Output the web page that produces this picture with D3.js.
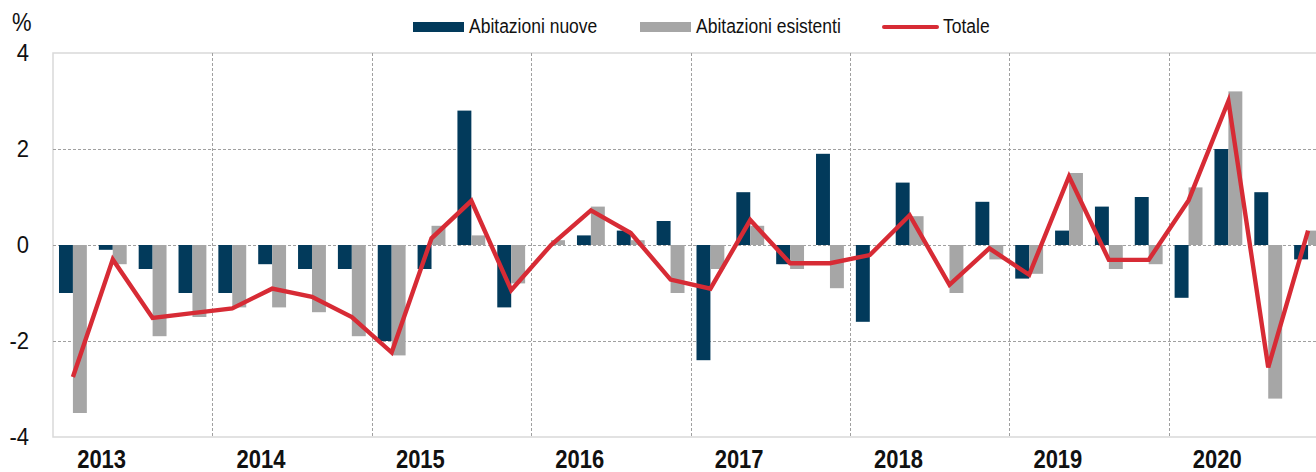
<!DOCTYPE html>
<html>
<head>
<meta charset="utf-8">
<script src="https://cdn.jsdelivr.net/npm/d3@7"></script>
<style>
  html, body { margin: 0; padding: 0; background: #fff; overflow: hidden; }
  svg { display: block; font-family: "Liberation Sans", Arial, sans-serif; }
</style>
</head>
<body>
<div id="chart"></div>
<script>
// quarterly data, 2013 Q1 - 2020 Q4 (% change)
const years = ["2013", "2014", "2015", "2016", "2017", "2018", "2019", "2020"];
const quarters = years.flatMap(y => ["Q1", "Q2", "Q3", "Q4"].map(q => y + q));

const nuove = [
    -1.0, -0.1, -0.5, -1.0,
    -1.0, -0.4, -0.5, -0.5,
    -2.0, -0.5, 2.8, -1.3,
    0.0, 0.2, 0.3, 0.5,
    -2.4, 1.1, -0.4, 1.9,
    -1.6, 1.3, 0.0, 0.9,
    -0.7, 0.3, 0.8, 1.0,
    -1.1, 2.0, 1.1, -0.3
];
const esistenti = [
    -3.5, -0.4, -1.9, -1.5,
    -1.3, -1.3, -1.4, -1.9,
    -2.3, 0.4, 0.2, -0.8,
    0.1, 0.8, 0.1, -1.0,
    -0.5, 0.4, -0.5, -0.9,
    0.0, 0.6, -1.0, -0.3,
    -0.6, 1.5, -0.5, -0.4,
    1.2, 3.2, -3.2, 0.3
];
const totale = [
    -2.75, -0.3, -1.52, -1.42,
    -1.32, -0.91, -1.08, -1.5,
    -2.24, 0.14, 0.92, -0.94,
    0.0, 0.72, 0.25, -0.72,
    -0.91, 0.52, -0.38, -0.38,
    -0.21, 0.62, -0.83, -0.07,
    -0.62, 1.43, -0.31, -0.31,
    0.93, 3.0, -2.55, 0.3
];
const yTicks = [-4, -2, 0, 2, 4];

const series = ["Abitazioni nuove", "Abitazioni esistenti"];
const colors = { "Abitazioni nuove": "#023a5b", "Abitazioni esistenti": "#a6a6a6", "Totale": "#d72b35" };

const width = 1316, height = 472;
const margin = { top: 53, right: -12, bottom: 35, left: 53 };

const svg = d3.select("#chart").append("svg")
    .attr("width", width)
    .attr("height", height);

let x = d3.scaleBand()
    .domain(quarters)
    .range([margin.left, width - margin.right])
    .padding(0);

let xSub = d3.scaleBand()
    .domain(series)
    .range([0, x.bandwidth()])
    .paddingInner(0)
    .paddingOuter(0.43);

let y = d3.scaleLinear()
    .domain([-4, 4])
    .range([height - margin.bottom, margin.top]);

let plotRight = width - margin.right;

// plot frame (light grey)
svg.append("path")
    .attr("fill", "none")
    .attr("stroke", "#d9d9d9")
    .attr("stroke-width", 1.5)
    .attr("d", `M${plotRight},${y(4)}H${margin.left}V${y(-4)}H${plotRight}`);

// horizontal dashed grid
svg.append("g")
    .selectAll("line")
    .data(yTicks.filter(d => d > -4 && d < 4))
    .join("line")
    .attr("x1", margin.left)
    .attr("x2", plotRight)
    .attr("y1", d => Math.round(y(d)) + 0.5)
    .attr("y2", d => Math.round(y(d)) + 0.5)
    .attr("stroke", "#a0a0a0")
    .attr("stroke-width", 1)
    .attr("stroke-dasharray", "3,2");

// vertical dashed lines at year boundaries
svg.append("g")
    .selectAll("line")
    .data(years.slice(1))
    .join("line")
    .attr("x1", d => Math.round(x(d + "Q1")) + 0.5)
    .attr("x2", d => Math.round(x(d + "Q1")) + 0.5)
    .attr("y1", y(4))
    .attr("y2", y(-4))
    .attr("stroke", "#a0a0a0")
    .attr("stroke-width", 1)
    .attr("stroke-dasharray", "3,2");

// bars
const barData = quarters.flatMap((q, i) => [
    { q: q, s: series[0], v: nuove[i] },
    { q: q, s: series[1], v: esistenti[i] }
]);

svg.append("g")
    .selectAll("rect")
    .data(barData)
    .join("rect")
    .attr("x", d => x(d.q) + xSub(d.s))
    .attr("width", xSub.bandwidth())
    .attr("y", d => y(Math.max(0, d.v)))
    .attr("height", d => Math.abs(y(d.v) - y(0)))
    .attr("fill", d => colors[d.s]);

// total line
const line = d3.line()
    .x((d, i) => x(quarters[i]) + x.bandwidth() / 2)
    .y(d => y(d));

svg.append("path")
    .datum(totale)
    .attr("fill", "none")
    .attr("stroke", colors["Totale"])
    .attr("stroke-width", 4.4)
    .attr("stroke-linejoin", "miter")
    .attr("d", line);

// y axis labels
svg.append("g")
    .selectAll("text")
    .data(yTicks)
    .join("text")
    .attr("transform", d => `translate(29,${y(d)}) scale(1,1.05)`)
    .attr("text-anchor", "end")
    .attr("dy", "0.36em")
    .attr("font-size", 22)
    .attr("fill", "#111")
    .text(d => d);

svg.append("text")
    .attr("transform", "translate(12,31) scale(1,1.15)")
    .attr("font-size", 22)
    .attr("fill", "#111")
    .text("%");

// year labels
svg.append("g")
    .selectAll("text")
    .data(years)
    .join("text")
    .attr("transform", d => `translate(${x(d + "Q1") + x.bandwidth() * 1.22},468) scale(1,1.2)`)
    .attr("text-anchor", "middle")
    .attr("font-size", 22)
    .attr("font-weight", "bold")
    .attr("fill", "#111")
    .text(d => d);

// legend
const legendItems = [
    { name: "Abitazioni nuove", x: 413, type: "rect" },
    { name: "Abitazioni esistenti", x: 640, type: "rect" },
    { name: "Totale", x: 884, type: "line" }
];

let legendG = svg.append("g");
legendItems.forEach(d => {
    if (d.type === "rect") {
        legendG.append("rect")
            .attr("x", d.x)
            .attr("y", 22)
            .attr("width", 51)
            .attr("height", 10)
            .attr("fill", colors[d.name]);
    } else {
        legendG.append("line")
            .attr("x1", d.x)
            .attr("x2", d.x + 53)
            .attr("y1", 27)
            .attr("y2", 27)
            .attr("stroke", colors[d.name])
            .attr("stroke-width", 4)
            .attr("stroke-linecap", "round");
    }
    legendG.append("text")
        .attr("transform", `translate(${d.type === "rect" ? d.x + 56 : d.x + 59},33) scale(1,1.2)`)
        .attr("font-size", 17.5)
        .attr("fill", "#111")
        .text(d.name);
});
</script>
</body>
</html>
